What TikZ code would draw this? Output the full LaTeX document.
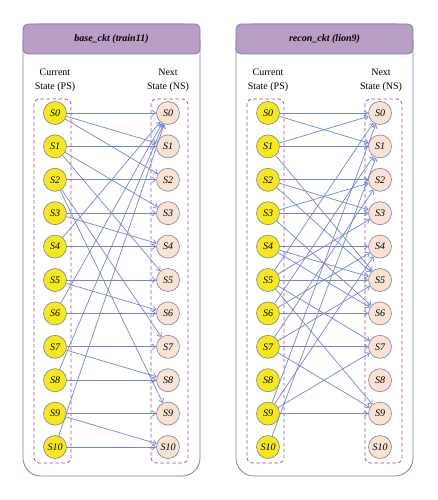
\documentclass[tikz,border=0pt]{standalone}
\usepackage{fontspec}
\setmainfont{Liberation Serif}
\usetikzlibrary{arrows.meta}
\definecolor{hdr}{HTML}{B89DC4}
\definecolor{frm}{HTML}{7C7CB0}
\definecolor{psfill}{HTML}{F7E81C}
\definecolor{nsfill}{HTML}{FAE3D3}
\definecolor{edgecol}{HTML}{7386D6}
\definecolor{dashcol}{HTML}{9A50A8}
\definecolor{nodeline}{HTML}{80809A}
\tikzset{
  psnode/.style={circle,draw=nodeline,line width=0.6pt,fill=psfill,minimum size=23pt,inner sep=0pt,font=\fontsize{10}{10}\selectfont\itshape},
  nsnode/.style={psnode,fill=nsfill},
  tr/.style={draw=edgecol,line width=0.7pt,-{Straight Barb[length=3.5pt,width=5.5pt]}},
  grpbox/.style={draw=dashcol,line width=0.8pt,rounded corners=5pt,dash pattern=on 3.5pt off 2.5pt},
  panel/.style={draw=frm,line width=0.8pt,rounded corners=18pt,fill=white},
  hdrbox/.style={draw=frm,fill=hdr,line width=0.8pt,rounded corners=5pt},
  lbl/.style={align=center,font=\fontsize{10}{14}\selectfont},
  hdrtext/.style={font=\fontsize{10}{12}\selectfont\bfseries\itshape}
}
\begin{document}
\begin{tikzpicture}[x=1pt,y=-1pt]
\useasboundingbox (0,0) rectangle (438,500);
% ---------- left panel ----------
\draw[panel] (23,24) rectangle (200,476);
\draw[hdrbox] (23,24) rectangle (200,54);
\node[hdrtext] (lh) at (111.5,39) {base\_ckt (train11)};
\node[lbl] (lcs) at (55,80) {Current\\State (PS)};
\node[lbl] (lns) at (168,80) {Next\\State (NS)};
\draw[grpbox] (34,99) rectangle (71,463);
\draw[grpbox] (151,99) rectangle (188,463);
\foreach \i in {0,...,10} {
  \node[psnode] (lp\i) at (55,{113+33.4*\i}) {S\i};
  \node[nsnode] (ln\i) at (168,{113+33.4*\i}) {S\i};
}
\foreach \a/\b in {0/0,0/1,0/2,1/1,1/3,1/5,2/2,2/7,2/9,3/3,3/4,4/4,4/0,5/5,5/6,6/6,6/0,7/7,7/8,8/8,8/0,9/9,9/10,10/10,10/0}
  \draw[tr] (lp\a) -- (ln\b);
% ---------- right panel ----------
\begin{scope}[xshift=213pt]
\draw[panel] (23,24) rectangle (200,476);
\draw[hdrbox] (23,24) rectangle (200,54);
\node[hdrtext] (rh) at (111.5,39) {recon\_ckt (lion9)};
\node[lbl] (rcs) at (55,80) {Current\\State (PS)};
\node[lbl] (rns) at (168,80) {Next\\State (NS)};
\draw[grpbox] (34,99) rectangle (71,463);
\draw[grpbox] (152,99) rectangle (189,463);
\foreach \i in {0,...,10} {
  \node[psnode] (rp\i) at (55,{113+33.4*\i}) {S\i};
  \node[nsnode] (rn\i) at (167,{113+33.4*\i}) {S\i};
}
\foreach \a/\b in {0/0,0/1,1/1,1/0,1/5,2/2,2/3,2/5,3/3,3/2,3/6,4/4,4/5,4/6,5/5,5/3,5/7,5/9,5/0,6/6,6/4,6/1,7/7,7/9,7/5,7/2,9/9,9/7,9/4,9/0,10/1}
  \draw[tr] (rp\a) -- (rn\b);
\end{scope}
\end{tikzpicture}
\end{document}
